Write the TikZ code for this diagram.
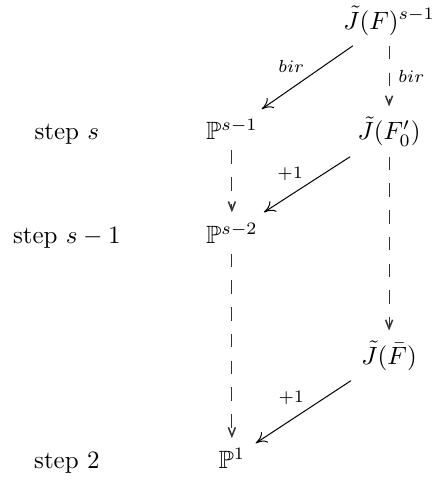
\documentclass[tikz,border=0pt]{standalone}
\usepackage{amssymb}
\usepackage{tikz}
\usetikzlibrary{arrows.meta}

\begin{document}
\begin{tikzpicture}[x=1cm,y=1cm,
  entry/.style={anchor=base,inner sep=4pt},
  steplabel/.style={anchor=base},
  mapto/.style={line width=.4pt,-{Computer Modern Rightarrow[length=4.5pt,width=5pt]}},
  dashmap/.style={line width=.45pt,black!80,dash pattern=on 5.4pt off 5.3pt,-{Straight Barb[length=3.5pt,width=2.8pt,line width=.6pt]}},
  lbl/.style={font=\scriptsize,inner sep=1.5pt}]
\path[use as bounding box] (0,0) rectangle (6.115,6.748);
\node[steplabel] (stepS) at (0.94,4.78) {step $s$};
\node[steplabel] (stepSm) at (0.94,3.33) {step $s-1$};
\node[steplabel] (stepTwo) at (0.94,0.155) {step $2$};
\node[entry] (pS) at (3.26,4.78) {$\mathbb{P}^{s-1}$};
\node[entry] (pSm) at (3.26,3.33) {$\mathbb{P}^{s-2}$};
\node[entry] (pOne) at (3.26,0.155) {$\mathbb{P}^1$};
\node[entry] (jF) at (5.47,6.34) {$\tilde J(F)^{s-1}$};
\node[entry] (jFz) at (5.47,4.78) {$\tilde J(F'_0)$};
\node[entry] (jFb) at (5.47,1.63) {$\tilde J(\bar F)$};
\draw[mapto] (jF) -- node[lbl,above left,pos=0.49] {$bir$} (pS);
\draw[dashmap] (jF) -- node[lbl,right,midway,xshift=2pt,text=black] {$bir$} (jFz);
\draw[mapto] (jFz) -- node[lbl,above left,pos=0.5] {$+1$} (pSm);
\draw[dashmap] (pS) -- (pSm);
\draw[dashmap] (jFz) -- (jFb);
\draw[dashmap] (pSm) -- (pOne);
\draw[mapto] (jFb) -- node[lbl,above left,pos=0.45] {$+1$} (pOne);
\end{tikzpicture}
\end{document}
